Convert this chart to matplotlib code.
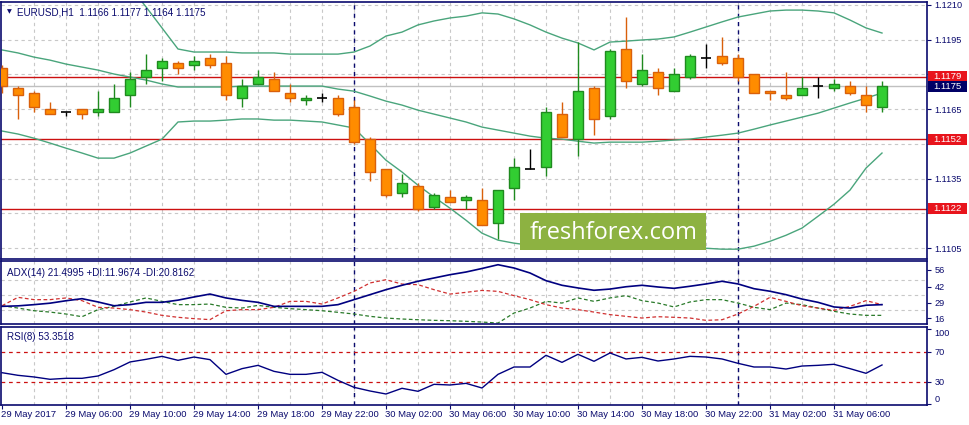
import matplotlib
matplotlib.use("Agg")
import matplotlib.pyplot as plt
from matplotlib.patches import Rectangle
import matplotlib.transforms as mtransforms

# ---------------- data ----------------
opens = [1.1183, 1.1174, 1.1172, 1.1165, 1.1164, 1.1165, 1.1164, 1.1164, 1.1171, 1.1179,
         1.1183, 1.1185, 1.1184, 1.1187, 1.1185, 1.1170, 1.1176, 1.1178, 1.1172, 1.1169,
         1.1170, 1.1170, 1.1166, 1.1152, 1.1139, 1.1129, 1.1132, 1.1123, 1.1127, 1.1126,
         1.1126, 1.1116, 1.1131, 1.1139, 1.1140, 1.1163, 1.1152, 1.1174, 1.1162, 1.1191,
         1.1176, 1.1181, 1.1173, 1.1179, 1.1187, 1.1188, 1.1187, 1.1180, 1.1173, 1.1171,
         1.1171, 1.1175, 1.1174, 1.1175, 1.1171, 1.1166]
highs = [1.1184, 1.1175, 1.1173, 1.1168, 1.1164, 1.1165, 1.1173, 1.1176, 1.1181, 1.1189,
         1.1187, 1.1186, 1.1188, 1.1189, 1.1188, 1.1178, 1.1182, 1.1181, 1.1176, 1.1171,
         1.1172, 1.1171, 1.1169, 1.1153, 1.1139, 1.1137, 1.1133, 1.1129, 1.1130, 1.1128,
         1.1131, 1.1130, 1.1144, 1.1148, 1.1166, 1.1168, 1.1194, 1.1175, 1.1191, 1.1205,
         1.1189, 1.1183, 1.1183, 1.1189, 1.1193, 1.1196, 1.1189, 1.1180, 1.1173, 1.1181,
         1.1179, 1.1179, 1.1178, 1.1177, 1.1175, 1.1177]
lows = [1.1172, 1.1161, 1.1164, 1.1163, 1.1162, 1.1161, 1.1162, 1.1164, 1.1166, 1.1176,
        1.1177, 1.1180, 1.1182, 1.1183, 1.1169, 1.1166, 1.1176, 1.1173, 1.1168, 1.1167,
        1.1168, 1.1162, 1.1150, 1.1134, 1.1127, 1.1127, 1.1121, 1.1122, 1.1125, 1.1122,
        1.1115, 1.1109, 1.1126, 1.1139, 1.1136, 1.1153, 1.1145, 1.1154, 1.1161, 1.1174,
        1.1175, 1.1171, 1.1173, 1.1178, 1.1183, 1.1184, 1.1177, 1.1172, 1.1169, 1.1169,
        1.1171, 1.1170, 1.1173, 1.1171, 1.1164, 1.1164]
closes = [1.1175, 1.1171, 1.1166, 1.1163, 1.1164, 1.1163, 1.1165, 1.1170, 1.1178, 1.1182,
          1.1186, 1.1183, 1.1186, 1.1184, 1.1171, 1.1175, 1.1179, 1.1173, 1.1170, 1.1170,
          1.1170, 1.1163, 1.1151, 1.1138, 1.1128, 1.1133, 1.1122, 1.1128, 1.1125, 1.1127,
          1.1115, 1.1130, 1.1140, 1.1139, 1.1164, 1.1153, 1.1173, 1.1161, 1.1190, 1.1177,
          1.1182, 1.1174, 1.1180, 1.1188, 1.1187, 1.1185, 1.1179, 1.1172, 1.1172, 1.1170,
          1.1174, 1.1175, 1.1176, 1.1172, 1.1167, 1.1175]

bb_upper = [1.1222, 1.1222, 1.1222, 1.1222, 1.1222, 1.1222, 1.1222, 1.1222, 1.12178, 1.12092,
            1.12001, 1.11910, 1.11897, 1.11897, 1.11897, 1.11893, 1.11893, 1.11893, 1.11888, 1.11888,
            1.11888, 1.11888, 1.11897, 1.11923, 1.11966, 1.11983, 1.12014, 1.12031, 1.12044, 1.12052,
            1.12066, 1.12061, 1.12040, 1.12014, 1.11983, 1.11957, 1.11936, 1.11906, 1.11940, 1.11944,
            1.11949, 1.11953, 1.11962, 1.11983, 1.12005, 1.12027, 1.12048, 1.12061, 1.12074, 1.12078,
            1.12078, 1.12074, 1.12066, 1.12035, 1.12001, 1.11979]
bb_middle = [1.11906, 1.11893, 1.11875, 1.11862, 1.11845, 1.11832, 1.11819, 1.11802, 1.11789, 1.11776,
             1.11759, 1.11746, 1.11746, 1.11746, 1.11746, 1.11750, 1.11750, 1.11750, 1.11750, 1.11750,
             1.11750, 1.11737, 1.11728, 1.11707, 1.11685, 1.11668, 1.11646, 1.11629, 1.11612, 1.11595,
             1.11573, 1.11560, 1.11547, 1.11534, 1.11525, 1.11521, 1.11512, 1.11504, 1.11508, 1.11508,
             1.11508, 1.11512, 1.11517, 1.11521, 1.11530, 1.11538, 1.11547, 1.11564, 1.11582, 1.11599,
             1.11616, 1.11633, 1.11655, 1.11677, 1.11698, 1.11720]
bb_lower = [1.11556, 1.11543, 1.11525, 1.11504, 1.11482, 1.11461, 1.11439, 1.11439, 1.11461, 1.11491,
            1.11521, 1.11595, 1.11599, 1.11599, 1.11603, 1.11608, 1.11608, 1.11603, 1.11603, 1.11599,
            1.11595, 1.11582, 1.11569, 1.11500, 1.11430, 1.11379, 1.11322, 1.11271, 1.11223, 1.11171,
            1.11115, 1.11085, 1.11072, 1.11063, 1.11063, 1.11059, 1.11059, 1.11059, 1.11059, 1.11059,
            1.11059, 1.11059, 1.11059, 1.11055, 1.11050, 1.11046, 1.11046, 1.11059, 1.11080, 1.11106,
            1.11137, 1.11188, 1.11240, 1.11301, 1.11396, 1.11461]

adx = [25.9, 26.3, 27.3, 28.5, 30.5, 32.2, 29.5, 26.4, 27.3, 29.2,
       29.2, 31.0, 33.6, 36.0, 32.8, 30.8, 29.2, 25.9, 25.9, 25.9,
       25.9, 27.3, 31.4, 35.5, 39.6, 43.2, 46.5, 49.2, 51.9, 54.1,
       57.0, 60.1, 57.4, 53.3, 47.0, 43.2, 41.0, 39.1, 40.1, 42.0,
       43.2, 41.8, 40.7, 42.4, 44.3, 46.5, 44.3, 40.4, 38.3, 35.5,
       31.9, 29.2, 25.4, 24.5, 26.8, 27.3]
plus_di = [26.4, 24.5, 22.3, 21.2, 19.6, 17.4, 23.2, 25.9, 29.5, 32.8,
           30.0, 27.3, 27.3, 27.8, 25.1, 24.5, 26.7, 25.1, 24.0, 23.2,
           22.3, 21.0, 19.6, 17.7, 16.3, 15.5, 14.9, 14.4, 14.1, 13.6,
           13.0, 12.2, 20.4, 24.5, 30.0, 28.6, 32.8, 30.0, 32.8, 34.7,
           30.6, 28.6, 25.4, 29.5, 31.4, 31.4, 28.6, 25.1, 23.2, 28.6,
           27.3, 24.5, 21.8, 19.6, 18.5, 18.5]
minus_di = [26.4, 33.3, 31.4, 31.4, 32.8, 30.6, 25.1, 24.5, 23.2, 21.2,
            18.5, 16.9, 15.8, 15.0, 22.3, 23.2, 23.2, 25.1, 30.0, 30.0,
            27.8, 32.8, 38.2, 45.1, 47.8, 44.2, 43.7, 39.6, 36.0, 37.4,
            39.0, 38.2, 34.7, 31.4, 27.3, 24.5, 23.2, 21.2, 19.1, 17.7,
            16.3, 17.4, 16.9, 16.3, 14.4, 14.9, 19.6, 25.9, 33.3, 30.0,
            26.4, 24.5, 22.6, 25.9, 30.6, 27.3]
rsi = [42.4, 38.9, 36.7, 33.6, 34.9, 34.9, 38.0, 46.4, 56.7, 60.2,
       64.2, 58.9, 63.3, 59.8, 40.2, 47.8, 52.2, 44.2, 40.2, 40.2,
       42.9, 32.2, 22.9, 18.0, 14.0, 21.6, 17.6, 26.9, 26.0, 28.2,
       22.0, 40.2, 50.0, 50.0, 65.6, 56.2, 66.9, 57.6, 68.7, 60.7,
       62.9, 58.0, 60.7, 64.2, 63.3, 60.7, 54.9, 50.0, 50.0, 47.3,
       51.3, 52.2, 53.6, 47.8, 41.6, 52.7]

time_labels = ["29 May 2017", "29 May 06:00", "29 May 10:00", "29 May 14:00", "29 May 18:00",
               "29 May 22:00", "30 May 02:00", "30 May 06:00", "30 May 10:00", "30 May 14:00",
               "30 May 18:00", "30 May 22:00", "31 May 02:00", "31 May 06:00"]
label_step = 4
day_separators = [22, 46]

price_ticks = [1.1105, 1.1120, 1.1135, 1.1150, 1.1165, 1.1180, 1.1195, 1.1210]
# labels hidden under the price tags are left blank
price_tick_labels = ["1.1105", "", "1.1135", "", "1.1165", "", "1.1195", "1.1210"]
level_lines = [1.1179, 1.1152, 1.1122]
bid_price = 1.1175
adx_ticks = [56, 42, 29, 16]
adx_grid = [47.8, 35.5, 22.7]
rsi_ticks = [100, 70, 30, 0]
rsi_levels = [70, 30]

header_main = "EURUSD,H1  1.1166 1.1177 1.1164 1.1175"
header_adx = "ADX(14) 21.4995 +DI:11.9674 -DI:20.8162"
header_rsi = "RSI(8) 53.3518"
watermark = "freshforex.com"

# ---------------- style ----------------
W, H, DPI = 969, 425, 100
NAVY = "#0b0b6e"
GRID = "#c8c8c8"
BULL = "#32cd32"
BULL_EDGE = "#1f8a1f"
BEAR = "#ff8c00"
BEAR_EDGE = "#d9600b"
BAND = "#4aa57c"
LEVEL = "#cc1010"
FONT = "Liberation Sans"
FS = 6.8

plt.rcParams["font.family"] = [FONT, "DejaVu Sans"]

fig = plt.figure(figsize=(W / DPI, H / DPI), dpi=DPI)
fig.patch.set_facecolor("white")


def rect(top, bottom, left=1, right=927):
    return [left / W, 1 - bottom / H, (right - left) / W, (bottom - top) / H]


ax = fig.add_axes(rect(2, 259))
ax_adx = fig.add_axes(rect(261, 324))
ax_rsi = fig.add_axes(rect(327, 405))

n = len(closes)
xs = list(range(n))
XLIM = (-0.0625, 57.8125)

for a in (ax, ax_adx, ax_rsi):
    a.set_xlim(*XLIM)
    a.set_facecolor("white")
    for s in a.spines.values():
        s.set_color(NAVY)
        s.set_linewidth(1.2)
    a.tick_params(axis="x", bottom=False, labelbottom=False)
    a.yaxis.tick_right()
    a.tick_params(axis="y", colors=NAVY, labelcolor=NAVY, labelsize=6.6,
                  length=3, width=0.8, pad=2.5)
    for i in range(2, n, 2):
        a.axvline(i, color=GRID, lw=0.8, ls=(0, (3, 3)), zorder=0)
    for d in day_separators:
        a.axvline(d, color=NAVY, lw=1.0, ls=(0, (3, 3)), zorder=1)

# ---------------- main price panel ----------------
ax.set_ylim(1.110036, 1.121129)
ax.set_yticks(price_ticks)
ax.set_yticklabels(price_tick_labels)
for p in price_ticks:
    ax.axhline(p, color=GRID, lw=0.8, ls=(0, (3, 3)), zorder=0)

ax.axhline(bid_price, color="#c0c0c0", lw=1.0, zorder=1)
for lv in level_lines:
    ax.axhline(lv, color=LEVEL, lw=1.0, zorder=1.5)

ax.plot(xs, bb_upper, color=BAND, lw=1.0, zorder=2)
ax.plot(xs, bb_middle, color=BAND, lw=1.0, zorder=2)
ax.plot(xs, bb_lower, color=BAND, lw=1.0, zorder=2)

BW = 0.6
for i in xs:
    o, h, l, c = opens[i], highs[i], lows[i], closes[i]
    if c > o:
        fc, ec = BULL, BULL_EDGE
    elif c < o:
        fc, ec = BEAR, BEAR_EDGE
    else:
        fc, ec = "black", "black"
    ax.vlines(i, l, h, color=ec, lw=1.0, zorder=3)
    if c == o:
        ax.hlines(o, i - BW / 2, i + BW / 2, color="black", lw=1.2, zorder=4)
    else:
        ax.bar(i, abs(c - o), bottom=min(o, c), width=BW, color=fc,
               edgecolor=ec, linewidth=1.0, zorder=4)

ax.text(0.0173, 0.961, header_main, transform=ax.transAxes, ha="left", va="center",
        color=NAVY, fontsize=FS + 0.3)
ax.text(0.0085, 0.963, "\u25bc", transform=ax.transAxes, ha="center", va="center",
        color=NAVY, fontsize=4.5, family="DejaVu Sans")

# watermark
ax.add_patch(Rectangle((0.5605, 0.035), 0.2009, 0.144, transform=ax.transAxes,
                       facecolor="#8db241", edgecolor="none", zorder=6))
ax.text(0.661, 0.103, watermark, transform=ax.transAxes, ha="center", va="center",
        color="white", fontsize=17, family="Open Sans", zorder=7)

# price tags on the right
trans = mtransforms.blended_transform_factory(ax.transAxes, ax.transData)
tag_w = 39 / 926
tag_h = 11 / 23167
for lv in level_lines:
    ax.add_patch(Rectangle((1.0015, lv - tag_h / 2), tag_w, tag_h, transform=trans,
                           facecolor="#e8141c", edgecolor="none", clip_on=False, zorder=8))
    ax.text(1.0015 + tag_w / 2, lv, f"{lv:.4f}", transform=trans, ha="center", va="center",
            color="white", fontsize=FS, clip_on=False, zorder=9)
ax.add_patch(Rectangle((1.0015, bid_price - tag_h / 2), tag_w, tag_h, transform=trans,
                       facecolor="#000066", edgecolor="none", clip_on=False, zorder=8))
ax.text(1.0015 + tag_w / 2, bid_price, f"{bid_price:.4f}", transform=trans, ha="center",
        va="center", color="white", fontsize=FS, clip_on=False, zorder=9)

# ---------------- ADX panel ----------------
ax_adx.set_ylim(11.40, 63.15)
ax_adx.set_yticks(adx_ticks)
ax_adx.set_yticklabels([str(t) for t in adx_ticks])
for g in adx_grid:
    ax_adx.axhline(g, color=GRID, lw=0.8, ls=(0, (3, 3)), zorder=0)
ax_adx.plot(xs, adx, color="#000080", lw=1.2, zorder=3)
ax_adx.plot(xs, plus_di, color="#2a7a2a", lw=0.9, ls=(0, (3, 2)), zorder=2)
ax_adx.plot(xs, minus_di, color="#d03030", lw=0.9, ls=(0, (3, 2)), zorder=2)
ax_adx.text(0.0065, 0.81, header_adx, transform=ax_adx.transAxes, ha="left", va="center",
            color=NAVY, fontsize=FS + 0.3)

# ---------------- RSI panel ----------------
ax_rsi.set_ylim(-0.67, 103.33)
ax_rsi.set_yticks(rsi_ticks)
ax_rsi.set_yticklabels([str(t) for t in rsi_ticks])
labs = ax_rsi.get_yticklabels()
labs[0].set_va("top")
labs[-1].set_va("bottom")
for lv in rsi_levels:
    ax_rsi.axhline(lv, color=LEVEL, lw=0.9, ls=(0, (3, 3)), zorder=1)
ax_rsi.plot(xs, rsi, color="#000080", lw=1.0, zorder=3)
ax_rsi.text(0.0065, 0.872, header_rsi, transform=ax_rsi.transAxes, ha="left", va="center",
            color=NAVY, fontsize=FS + 0.3)

# time axis
tick_pos = list(range(0, n, label_step))
ax_rsi.set_xticks(tick_pos)
ax_rsi.tick_params(axis="x", bottom=True, labelbottom=False, length=3, width=0.8,
                   colors=NAVY, direction="out")
for pos, lab in zip(tick_pos, time_labels):
    ax_rsi.annotate(lab, xy=(pos, 0), xycoords=("data", "axes fraction"),
                    xytext=(-1, -3.5), textcoords="offset points", ha="left", va="top",
                    color=NAVY, fontsize=FS, annotation_clip=False)

fig.savefig("out.png", dpi=DPI, facecolor="white")
